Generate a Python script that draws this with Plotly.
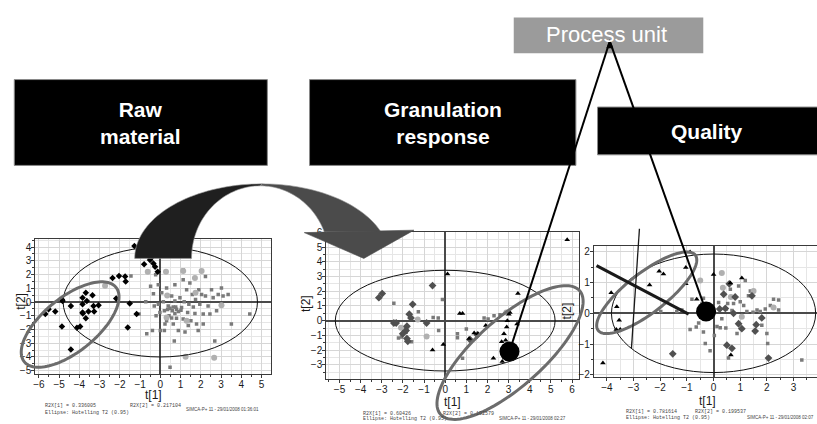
import numpy as np
import plotly.graph_objects as go

W, H = 817, 424
FONT = "Liberation Sans, Arial, sans-serif"

# ---------------- score data (t[1], t[2]) ----------------
# Raw material model
p1_dia_x = [-5.68, -5.52, -5.19, -4.86, -4.83, -4.86, -4.42, -4.42, -4.12, -3.96, -3.84, -3.84, -3.84,
            -3.83, -3.68, -3.68, -3.63, -3.55, -3.35, -3.30, -3.27, -3.05, -2.18, -2.36, -2.04, -1.74,
            -1.71, -1.51, -1.61, -1.17, -1.28, -0.80, -0.51, -0.34, -0.26, -0.13, -0.48]
p1_dia_y = [-0.88, -0.52, -0.69, 0.19, 0.07, -1.79, -0.29, -3.45, -1.88, -1.79, 0.31, -0.17, -0.76,
            -0.83, 0.67, -1.19, 0.07, -0.69, 0.50, -0.29, -0.69, -0.24, 0.26, 1.74, 1.90, 1.86,
            1.50, -0.10, -1.86, -0.88, 4.07, 2.74, 3.05, 2.81, 2.57, 2.21, 3.17]
p1_sq_x = [-1.45, -1.05, -0.72, -0.67, -0.48, -0.34, -0.30, -0.21, -0.10, 0.00, 0.07, 0.15, 0.20, 0.23,
           0.31, 0.39, 0.43, 0.48, 0.56, 0.59, 0.64, 0.69, 0.72, 0.76, 0.80, 0.89, 0.97, 1.05, 1.13,
           1.13, 1.18, 1.22, 1.30, 1.35, 1.41, 1.46, 1.51, 1.58, 1.63, 1.71, 1.74, 1.79, 1.87, 1.90,
           1.95, 2.04, 2.12, 2.23, 2.23, 2.36, 2.45, 2.53, 2.61, 2.69, 2.78, 2.86, 3.02, 3.10, 3.35,
           3.51, 4.42, -0.10, 0.36, 0.48, 0.64, 0.80, 0.89, 1.02, 0.72, 0.56, 0.31, 0.20, -0.39,
           0.72, -0.02, -0.23, 1.13, 1.38, 1.71, 2.12]
p1_sq_y = [1.90, -0.88, 0.02, -2.31, 1.14, 0.60, -0.29, -1.00, 1.26, -2.07, 0.67, 0.02, -0.64, -1.60,
           1.02, -0.29, -1.00, -4.74, 0.43, -0.64, -1.60, -2.83, 1.26, -0.36, -1.19, -2.07, 0.31,
           -0.40, 2.33, 1.62, 0.02, -2.19, 0.90, -0.76, -0.17, 1.38, -1.36, 0.55, -0.36, 1.74, 0.19,
           -1.60, -2.07, 0.90, -0.17, 0.55, -0.88, 1.86, 0.43, -0.29, -0.88, 0.90, 0.31, -2.83,
           -0.64, 0.55, 1.02, 0.43, 0.55, -1.60, -0.88, -0.17, -0.55, -0.45, -0.36, -0.52, -0.69,
           -0.60, -0.83, -1.17, -1.36, -2.07, -2.07, 0.07, -0.76, 1.98, -1.24, -1.71, -0.83, -1.60]
p1_cir_x = [-2.73, -0.62, 0.28, 1.13, 1.71, 2.04, 0.34, 1.74, 3.02, 1.30, 0.31, 1.25, 2.66]
p1_cir_y = [1.19, 2.21, 2.21, 2.26, 1.74, 2.26, 0.48, 0.67, -0.24, -1.36, -1.12, -3.98, -4.05]

# Granulation response model
p2_dia_x = [-3.14, -2.98, -2.43, -2.32, -1.54, -1.70, -1.62, -1.81, -1.85, -2.01, -1.81, -1.77,
            -0.88, -0.60, 1.52, 1.18]
p2_dia_y = [1.56, 1.84, -0.16, -0.16, 1.11, 0.44, 0.18, -0.38, -0.67, -0.89, -1.22, -1.40,
            -0.16, 2.38, -0.96, -1.29]
p2_sq_x = [-2.43, -2.21, -2.06, -1.90, -1.85, -1.59, -1.27, -0.57, -0.33, -0.13, -0.31, 0.58, 0.58,
           0.82, 1.00, 1.84, 2.03, 2.59, 2.31]
p2_sq_y = [1.18, -1.18, -1.11, -0.49, -0.78, -1.44, 0.60, 0.22, 0.18, 1.44, -0.67, -0.89, -1.16,
           -2.56, -0.56, 0.18, 0.11, 0.40, 0.33]
p2_cir_x = [-2.09, -1.30, -0.88, 2.89]
p2_cir_y = [-0.49, 0.07, -1.07, 0.56]
p2_tri_x = [0.11, 0.69, 0.82, -0.09, -0.60, 1.37, 1.55, 1.13, 1.92, 2.78, 2.86, 3.01, 3.06, 2.94,
            2.91, 2.67, 2.28, 2.70, 3.40, 3.44, 5.77]
p2_tri_y = [3.16, 0.49, 0.49, -1.62, -2.00, -0.84, -0.89, -1.22, -0.33, -0.89, -1.33, 0.44, 0.56,
            0.00, -0.44, -1.44, -2.56, -2.78, -0.22, 1.84, 5.50]

# Quality model
p3_tri_x = [-4.15, -3.84, -3.63, -3.54, -3.65, -3.50, -2.40, -2.04, -1.88, -1.04, -1.04, -0.88,
            -0.63, 0.00, 1.06, 0.63, 0.65]
p3_tri_y = [-1.62, 0.67, 0.21, -0.23, -0.53, -0.53, 0.92, 1.37, 1.28, 1.49, 0.96, 2.00,
            0.46, 1.26, 1.15, 0.99, -1.36]
p3_dia_x = [0.38, 0.59, 0.81, 0.44, 0.75, 0.94, 1.06, 1.56, 1.60, 1.81, 2.06, 0.50, 0.69, -1.53,
            0.23, 1.44]
p3_dia_y = [0.62, 0.96, 0.53, 0.16, 0.00, -0.34, -0.50, -0.58, -0.37, -0.15, -1.46, -1.04, -1.14,
            -1.32, 0.14, 0.57]
p3_cir_x = [-0.50, 0.35, 0.65, 0.31, 1.50, 1.06, 2.25]
p3_cir_y = [1.07, 0.83, 0.53, 1.31, 0.73, -0.11, 0.19]
p3_sq_x = [-0.81, -0.88, -0.65, -0.56, -0.44, -0.38, -0.31, -0.13, 0.03, 0.13, 0.19, 0.25, 0.31,
           0.46, 0.53, 0.56, 0.63, 0.69, 0.75, 0.94, 1.00, 1.13, 1.19, 1.25, 1.31, 1.38, 1.48,
           1.63, 1.75, 1.81, 1.94, 2.00, 2.03, 2.13, 2.25, 2.44, 2.44, 3.31, -1.98, -1.38, -1.19,
           -0.38, 0.48, 0.88]
p3_sq_y = [0.46, -0.53, -0.45, -0.32, 0.30, 0.49, -0.98, -1.22, -0.72, -0.43, 0.35, -0.47, -0.18,
           -0.48, 0.32, -1.46, 0.78, 0.09, 0.32, 0.89, 0.38, 0.25, 1.07, 0.06, 0.57, 0.73, 0.03,
           0.11, 0.06, -0.39, 0.14, -0.66, -0.98, 0.25, 0.46, 0.43, 0.11, -1.52, 0.06, 0.06, 0.11,
           -0.61, 0.14, -0.66]

# highlighted process-unit observations
unit_p2 = (3.04, -2.10)
unit_p3 = (-0.28, 0.06)

# Hotelling T2 (0.95) ellipse half-axes per model
t2_p1 = (4.8, 4.0)
t2_p2 = (5.2, 3.42)
t2_p3 = (3.83, 1.93)

# tick labels
p1_xticks, p1_yticks = list(range(-6, 6)), list(range(-5, 5))
p2_xticks, p2_yticks = list(range(-5, 7)), list(range(-4, 7))
p3_xticks, p3_yticks = list(range(-4, 4)), list(range(-2, 3))

footers = [
    ("R2X[1] = 0.336005", "R2X[2] = 0.217104", "SIMCA-P+ 11 - 29/01/2008 01:36:01"),
    ("R2X[1] = 0.60426", "R2X[2] = 0.102579", "SIMCA-P+ 11 - 29/01/2008 02:27"),
    ("R2X[1] = 0.781614", "R2X[2] = 0.199537", "SIMCA-P+ 11 - 29/01/2008 02:07"),
]

# ---------------- panel geometry (pixels) ----------------
PANELS = [
    dict(x0=33.3, x1=269.3, y0=238.3, y1=375.7, xr=[-6.18, 5.45], yr=[-5.21, 4.60],
         xt=p1_xticks, yt=p1_yticks, mirror_y=True),
    dict(x0=325.0, x1=578.0, y0=231.5, y1=381.0, xr=[-5.63, 6.31], yr=[-3.95, 6.01],
         xt=p2_xticks, yt=p2_yticks, mirror_y=True),
    dict(x0=593.3, x1=817.0, y0=245.7, y1=379.0, xr=[-4.49, 3.88], yr=[-2.07, 2.19],
         xt=p3_xticks, yt=p3_yticks, mirror_y=False),
]


def px(x):
    return x / W


def py(y):
    return 1 - y / H


def to_px(p, x, y):
    P = PANELS[p]
    fx = (x - P["xr"][0]) / (P["xr"][1] - P["xr"][0])
    fy = (y - P["yr"][0]) / (P["yr"][1] - P["yr"][0])
    return P["x0"] + fx * (P["x1"] - P["x0"]), P["y1"] - fy * (P["y1"] - P["y0"])


def path_px(pts, close=True):
    s = "M " + " L ".join(f"{px(x):.5f},{py(y):.5f}" for x, y in pts)
    return s + (" Z" if close else "")


fig = go.Figure()


def add_pts(i, x, y, symbol, size, color):
    fig.add_trace(go.Scatter(
        x=x, y=y, mode="markers", xaxis=f"x{i + 1 if i else ''}", yaxis=f"y{i + 1 if i else ''}",
        marker=dict(symbol=symbol, size=size, color=color, line=dict(width=0)),
        hoverinfo="skip", showlegend=False))


SQ, CIR, DIA, TRI = "#7a7a7a", "#b0b0b0", "#505050", "#000000"
add_pts(0, p1_sq_x, p1_sq_y, "square", 3.5, SQ)
add_pts(0, p1_cir_x, p1_cir_y, "circle", 6, CIR)
add_pts(0, p1_dia_x, p1_dia_y, "diamond", 5, "#000000")
add_pts(1, p2_sq_x, p2_sq_y, "square", 3.5, SQ)
add_pts(1, p2_cir_x, p2_cir_y, "circle", 6, CIR)
add_pts(1, p2_dia_x, p2_dia_y, "diamond", 6, DIA)
add_pts(1, p2_tri_x, p2_tri_y, "triangle-up", 5, TRI)
add_pts(2, p3_sq_x, p3_sq_y, "square", 3.5, SQ)
add_pts(2, p3_cir_x, p3_cir_y, "circle", 6, CIR)
add_pts(2, p3_dia_x, p3_dia_y, "diamond", 6, DIA)
add_pts(2, p3_tri_x, p3_tri_y, "triangle-up", 5, TRI)
add_pts(1, [unit_p2[0]], [unit_p2[1]], "circle", 20, "#000000")
add_pts(2, [unit_p3[0]], [unit_p3[1]], "circle", 20, "#000000")

layout = dict(width=W, height=H, margin=dict(l=0, r=0, t=0, b=0),
              paper_bgcolor="white", plot_bgcolor="white", showlegend=False)

for i, P in enumerate(PANELS):
    sfx = str(i + 1) if i else ""
    common = dict(showline=True, linecolor="#3a3a3a", linewidth=1, ticks="outside", ticklen=3,
                  tickcolor="#3a3a3a", tickfont=dict(family=FONT, size=10, color="#1a1a1a"),
                  ticklabelstandoff=-2,
                  showgrid=True, gridcolor="#d6d6d6", gridwidth=1,
                  zeroline=True, zerolinecolor="#4a4a4a", zerolinewidth=1.6,
                  minor=dict(dtick=0.5, ticks="outside", ticklen=2, tickcolor="#3a3a3a",
                             showgrid=True, gridcolor="#e6e6e6"),
                  fixedrange=True)
    layout["xaxis" + sfx] = dict(common, domain=[px(P["x0"]), px(P["x1"])], range=P["xr"],
                                 tickvals=P["xt"], anchor="y" + sfx, mirror=True)
    layout["yaxis" + sfx] = dict(common, domain=[py(P["y1"]), py(P["y0"])], range=P["yr"],
                                 tickvals=P["yt"], anchor="x" + sfx, mirror=P["mirror_y"])

fig.update_layout(**layout)

shapes = []
# Hotelling T2 ellipses
for i, (a, b) in enumerate([t2_p1, t2_p2, t2_p3]):
    sfx = str(i + 1) if i else ""
    shapes.append(dict(type="circle", xref="x" + sfx, yref="y" + sfx, x0=-a, x1=a, y0=-b, y1=b,
                       line=dict(color="#111111", width=1), layer="above"))


def rot_ellipse(cx, cy, a, b, theta_deg, n=120):
    th = np.radians(theta_deg)
    t = np.linspace(0, 2 * np.pi, n)
    xs = cx + a * np.cos(t) * np.cos(th) + b * np.sin(t) * np.sin(th)
    ys = cy - a * np.cos(t) * np.sin(th) + b * np.sin(t) * np.cos(th)
    return list(zip(xs, ys))


# hand-drawn grouping rings
for cx, cy, a, b, th in [(68.3, 325.7, 59.6, 27.3, 39.8),
                         (509.3, 354.2, 94.0, 34.3, 42.3),
                         (646.3, 293.3, 62.0, 20.1, 38.4)]:
    shapes.append(dict(type="path", xref="paper", yref="paper",
                       path=path_px(rot_ellipse(cx, cy, a, b, th)),
                       line=dict(color="#6c6c6c", width=3), layer="above"))


def arc(cx, cy, a, b, t0, t1, n=40):
    t = np.radians(np.linspace(t0, t1, n))
    return list(zip(cx + a * np.cos(t), cy - b * np.sin(t)))


# curved transfer arrow between raw material and granulation
outer = dict(cx=260.6, cy=258.3, a=127.6, b=76.0)
inner = dict(cx=258.9, cy=258.3, a=68.9, b=74.0)
dark = arc(t0=180, t1=90, **outer) + arc(t0=90, t1=180, **inner)
grey = arc(t0=90, t1=20.8, **outer) + arc(t0=21.4, t1=90, **inner)
head = [(303, 232), (362.7, 258.3), (413, 229.5)]
shapes.append(dict(type="path", xref="paper", yref="paper", path=path_px(dark),
                   fillcolor="#1f1f1f", line=dict(color="#9a9a9a", width=0.6), layer="above"))
shapes.append(dict(type="path", xref="paper", yref="paper", path=path_px(grey),
                   fillcolor="#4b4b4b", line=dict(color="#9a9a9a", width=0.6), layer="above"))
shapes.append(dict(type="path", xref="paper", yref="paper", path=path_px(head),
                   fillcolor="#4b4b4b", line=dict(color="#4b4b4b", width=0.6), layer="above"))

# title blocks
for x0, y0, x1, y1 in [(12.3, 76, 266, 163.5), (308.3, 76, 575.3, 163.5), (597, 104, 830, 152.7)]:
    shapes.append(dict(type="rect", xref="paper", yref="paper", x0=px(x0), x1=px(x1),
                       y0=py(y1), y1=py(y0), fillcolor="#000000",
                       line=dict(color="#8a8a8a", width=1), layer="above"))
shapes.append(dict(type="rect", xref="paper", yref="paper", x0=px(513), x1=px(703),
                   y0=py(49.3), y1=py(12.7), fillcolor="#9b9b9b", line=dict(width=0),
                   layer="above"))

# connector lines from the process unit to its observations
apex = (609.3, 37.0)
for p, (ux, uy) in [(1, unit_p2), (2, unit_p3)]:
    ex, ey = to_px(p, ux, uy)
    shapes.append(dict(type="line", xref="paper", yref="paper", x0=px(apex[0]), y0=py(apex[1]),
                       x1=px(ex), y1=py(ey), line=dict(color="#000000", width=2), layer="above"))
shapes.append(dict(type="path", xref="paper", yref="paper",
                   path=path_px([(apex[0], apex[1] - 2), (apex[0] - 3.5, apex[1] + 7),
                                 (apex[0] + 3.5, apex[1] + 7)]),
                   fillcolor="#000000", line=dict(width=0), layer="above"))

# loading-direction strokes in the quality plot
shapes.append(dict(type="line", xref="paper", yref="paper", x0=px(596), y0=py(265.7),
                   x1=px(688.3), y1=py(315), line=dict(color="#1a1a1a", width=3), layer="above"))
shapes.append(dict(type="line", xref="paper", yref="paper", x0=px(639), y0=py(228),
                   x1=px(631), y1=py(350), line=dict(color="#1a1a1a", width=1.3), layer="above"))

fig.update_layout(shapes=shapes)

ann = []


def text(x, y, s, size, color="#000000", bold=False, angle=0, xanchor="center", family=FONT):
    ann.append(dict(x=px(x), y=py(y), xref="paper", yref="paper", text=f"<b>{s}</b>" if bold else s,
                    showarrow=False, textangle=angle, xanchor=xanchor, yanchor="middle",
                    font=dict(family=family, size=size, color=color)))


text(139.2, 120, "Raw<br>material", 21, "white", bold=True)
text(441.8, 120, "Granulation<br>response", 21, "white", bold=True)
text(707, 128.5, "Quality", 21, "white", bold=True)
text(606, 30, "Process unit", 22, "white")

# axis titles
for xl, yl, tx, ty in [(151.7, 397, 19.5, 302), (451.7, 405, 305.5, 304), (707.7, 403.5, 566.7, 312)]:
    text(xl, yl, "t[1]", 12, "#1a1a1a")
    text(tx, ty, "t[2]", 12, "#1a1a1a", angle=-90)

# model footers
MONO = "Liberation Mono, Courier New, monospace"
for (r1, r2, sim), (x0, x2, xs, y1, y2, ys, anc) in zip(
        footers, [(40.7, 126.7, 182.7, 409, 416, 412.5, "left"),
                  (360, 440, 496.7, 417, 422, 421.5, "left"),
                  (623.3, 693, 816, 415, 420.5, 420.5, "right")]):
    text(x0, y1, r1, 5, "#444444", xanchor="left", family=MONO)
    text(x2, y1, r2, 5, "#444444", xanchor="left", family=MONO)
    text(x0, y2, "Ellipse: Hotelling T2 (0.95)", 5, "#444444", xanchor="left", family=MONO)
    text(xs, ys, sim, 4.5, "#444444", xanchor=anc)

fig.update_layout(annotations=ann)
fig.write_html("out.html")
